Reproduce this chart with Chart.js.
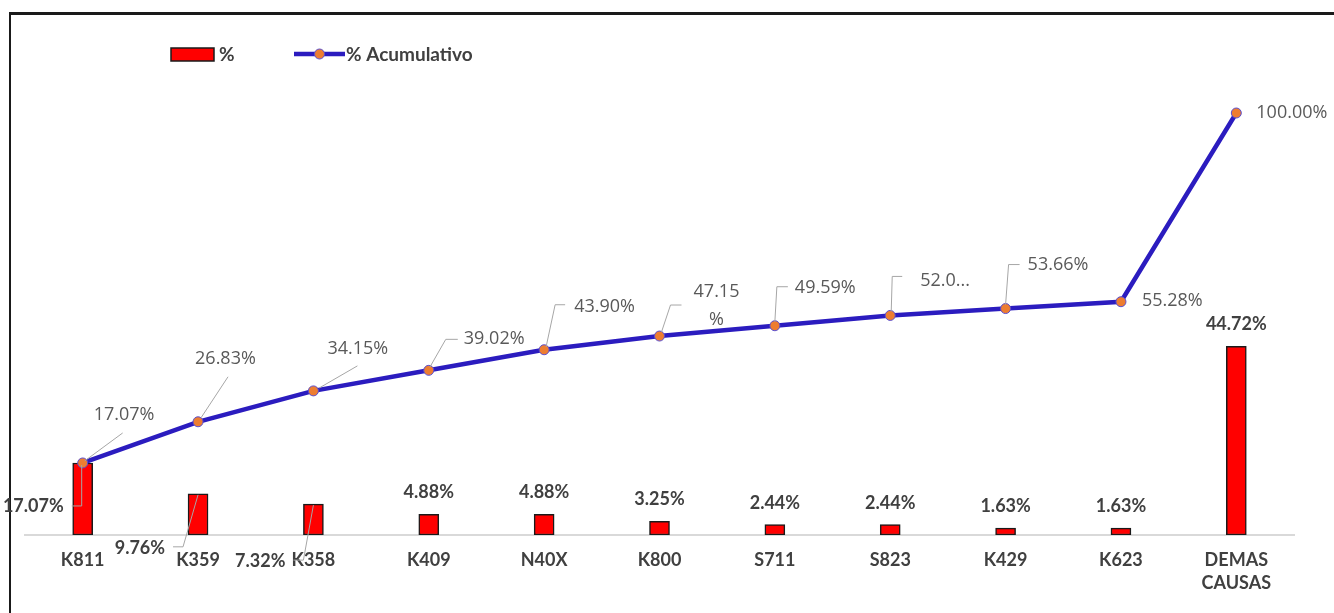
<!DOCTYPE html>
<html>
<head>
<meta charset="UTF-8">
<title>Pareto</title>
<script src="https://cdn.jsdelivr.net/npm/chart.js@4.4.0/dist/chart.umd.min.js"></script>
<style>
  body { margin: 0; background: #fff; overflow: hidden; }
  #frame { position: absolute; left: 9px; top: 12px; width: 1400px; height: 700px;
           border-top: 3px solid #1a1a1a; border-left: 2px solid #1a1a1a; }
  #myChart { position: absolute; left: 0; top: 0; }
</style>
</head>
<body>
<div id="frame"></div>
<canvas id="myChart" width="1334" height="613"></canvas>

<script>
// data
var categorias = ['K811', 'K359', 'K358', 'K409', 'N40X', 'K800', 'S711', 'S823', 'K429', 'K623', ['DEMAS', 'CAUSAS']];
var porcentaje = [17.07, 9.76, 7.32, 4.88, 4.88, 3.25, 2.44, 2.44, 1.63, 1.63, 44.72];
var acumulado  = [17.07, 26.83, 34.15, 39.02, 43.90, 47.15, 49.59, 52.03, 53.66, 55.28, 100.00];

var etiquetasPct = porcentaje.map(v => v.toFixed(2) + '%');
var etiquetasAcum = acumulado.map(v => v.toFixed(2) + '%');
etiquetasAcum[5] = ['47.15', '%'];   // wrapped like in the original
etiquetasAcum[7] = '52.0...';        // truncated like in the original

var AZUL = '#2b1cbf', NARANJA = '#ed7d31', ROJO = '#ff0000';
var fBold = '"Liberation Sans Narrow", "Arial Narrow", Lato, sans-serif';
var fNorm = '"Open Sans", "Noto Sans", sans-serif';

// label offsets (px) relative to each point / bar top, with leader lines
var posAcum = [
  {dx: 11, dy: -48, lead: [[2, -2], [40, -30]]},
  {dx: -3, dy: -63, lead: [[3, -4], [30, -45]]},
  {dx: 14, dy: -42, lead: [[6, -3], [44, -25]]},
  {dx: 35, dy: -31, lead: [[1, -3], [17, -31], [29, -31]]},
  {dx: 30, dy: -43, lead: [[2, -3], [11, -45], [21, -45]]},
  {dx: 57, dy: -44, center: true, lead: [[2, -4], [11, -31], [22, -31]]},
  {dx: 20, dy: -38, lead: [[0, -4], [2, -39], [13, -39]]},
  {dx: 30, dy: -35, lead: [[1, -4], [2, -39], [12, -39]]},
  {dx: 22, dy: -44, lead: [[0, -4], [3, -44], [14, -44]]},
  {dx: 21, dy: -1},
  {dx: 20, dy: 0}
];
var posPct = [
  {dx: -19, dy: 43, lead: [[-1, 2], [-1, 43], [-11, 43]]},
  {dx: -33, dy: 54, lead: [[0, 1], [-15, 53], [-25, 53]]},
  {dx: -28, dy: 57, lead: [[0, 1], [-10, 56], [-20, 56]]}
];

function leader(ctx, x, y, pts) {
  ctx.save();
  ctx.strokeStyle = '#a6a6a6';
  ctx.lineWidth = 1;
  ctx.beginPath();
  pts.forEach((p, k) => k ? ctx.lineTo(x + p[0], y + p[1]) : ctx.moveTo(x + p[0], y + p[1]));
  ctx.stroke();
  ctx.restore();
}

var etiquetas = {
  id: 'etiquetas',
  afterDatasetsDraw(chart) {
    var ctx = chart.ctx;
    var linea = chart.getDatasetMeta(0).data;
    var barras = chart.getDatasetMeta(1).data;

    // bar labels
    ctx.save();
    ctx.font = 'bold 18px ' + fBold;
    ctx.fillStyle = '#404040';
    ctx.textBaseline = 'middle';
    barras.forEach((b, i) => {
      var p = posPct[i];
      if (p) {
        leader(ctx, b.x, b.y, p.lead);
        ctx.textAlign = 'right';
        ctx.fillText(etiquetasPct[i], b.x + p.dx, b.y + p.dy);
      } else {
        ctx.textAlign = 'center';
        ctx.fillText(etiquetasPct[i], b.x, b.y - 22);
      }
    });
    ctx.restore();

    // cumulative labels
    ctx.save();
    ctx.font = '18px ' + fNorm;
    ctx.fillStyle = '#595959';
    ctx.textBaseline = 'middle';
    linea.forEach((pt, i) => {
      var p = posAcum[i];
      if (p.lead) leader(ctx, pt.x, pt.y, p.lead);
      var t = etiquetasAcum[i];
      if (Array.isArray(t)) {
        ctx.textAlign = 'center';
        t.forEach((s, k) => ctx.fillText(s, pt.x + p.dx, pt.y + p.dy + k * 28));
      } else {
        ctx.textAlign = 'left';
        ctx.fillText(t, pt.x + p.dx, pt.y + p.dy);
      }
    });
    ctx.restore();
  }
};

var leyenda = {
  id: 'leyenda',
  afterDraw(chart) {
    var ctx = chart.ctx;
    var ds = chart.data.datasets;
    ctx.save();
    ctx.fillStyle = ROJO;
    ctx.strokeStyle = '#1a1a1a';
    ctx.lineWidth = 1.5;
    ctx.fillRect(171, 48, 43, 13);
    ctx.strokeRect(171, 48, 43, 13);
    ctx.strokeStyle = AZUL;
    ctx.lineWidth = 4.5;
    ctx.beginPath(); ctx.moveTo(294, 54); ctx.lineTo(345, 54); ctx.stroke();
    ctx.beginPath(); ctx.arc(319.5, 54, 5, 0, Math.PI * 2);
    ctx.fillStyle = NARANJA; ctx.fill();
    ctx.lineWidth = 1; ctx.strokeStyle = '#5a4fd0'; ctx.stroke();
    ctx.font = 'bold 19px ' + fBold;
    ctx.fillStyle = '#404040';
    ctx.textBaseline = 'middle';
    ctx.fillText(ds[1].label, 219, 55);
    ctx.fillText(ds[0].label, 346, 55);
    ctx.restore();
  }
};

var ctx = document.getElementById('myChart').getContext('2d');
var myChart = new Chart(ctx, {
  data: {
    labels: categorias,
    datasets: [{
      type: 'line',
      label: '% Acumulativo',
      data: acumulado,
      borderColor: AZUL,
      borderWidth: 4.5,
      tension: 0,
      pointRadius: 5,
      pointBackgroundColor: NARANJA,
      pointBorderColor: '#5a4fd0',
      pointBorderWidth: 1,
      clip: false,
      order: 0
    }, {
      type: 'bar',
      label: '%',
      data: porcentaje,
      backgroundColor: ROJO,
      borderColor: '#1a1a1a',
      borderWidth: 1.5,
      borderSkipped: false,
      barThickness: 20,
      order: 1
    }]
  },
  options: {
    responsive: false,
    devicePixelRatio: 1,
    animation: false,
    layout: { padding: { left: 25, right: 40, top: 113, bottom: 0 } },
    plugins: { legend: { display: false }, tooltip: { enabled: false } },
    scales: {
      x: {
        grid: { display: false, drawTicks: false },
        border: { display: true, color: '#d9d9d9', width: 2 },
        ticks: {
          color: '#404040',
          padding: 14,
          maxRotation: 0,
          autoSkip: false,
          font: { family: fBold, size: 18, weight: 'bold', lineHeight: '23px' }
        },
        afterFit: function (s) { s.height = 78; }
      },
      y: { display: false, min: 0, max: 100 }
    }
  },
  plugins: [etiquetas, leyenda]
});
</script>
</body>
</html>
